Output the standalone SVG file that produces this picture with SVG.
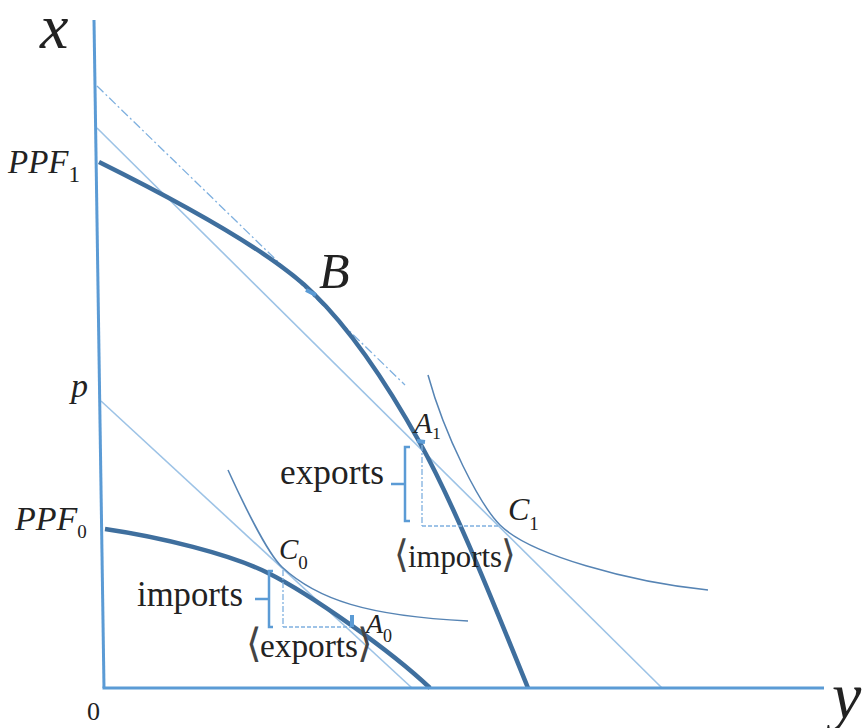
<svg xmlns="http://www.w3.org/2000/svg" width="863" height="728" viewBox="0 0 863 728">
<style>
  .axis{stroke:#5b9bd5;stroke-width:3;fill:none;stroke-linecap:butt}
  .ppf{stroke:#3f6f9e;stroke-width:4.5;fill:none;stroke-linecap:butt}
  .price{stroke:#9dc3e6;stroke-width:1.6;fill:none}
  .dashdot{stroke:#7fb0df;stroke-width:1.3;fill:none;stroke-dasharray:9 3 2 3}
  .ic{stroke:#5684b4;stroke-width:1.5;fill:none}
  .tri{stroke:#7fb0df;stroke-width:1.3;fill:none;stroke-dasharray:4 2}
  .tri2{stroke:#7fb0df;stroke-width:1.3;fill:none;stroke-dasharray:6 2 2 2}
  .brk{stroke:#5b9bd5;stroke-width:2.5;fill:none}
  .mk{stroke:#5b9bd5;stroke-width:4;fill:none}
  .lbl{font-family:"Liberation Serif","DejaVu Serif",serif;fill:#222}
  .ang{font-family:"DejaVu Serif",serif;fill:#444;font-weight:normal}
  .it{font-style:italic}
</style>
<g id="connectors">
  <line class="dashdot" x1="97" y1="86" x2="405" y2="385"/>
  <line class="price" x1="97" y1="128" x2="662" y2="688"/>
  <line class="price" x1="101" y1="401" x2="412" y2="688"/>
  <path class="ic" d="M428,375 C445,437 480,505 500,525 C530,555 630,582 708,590"/>
  <path class="ic" d="M228,470 C240,496.4 267,553 282,567 C317,599.6 368,616 468,621"/>
  <path class="ppf" d="M99,162 C240,232 290,270 313,293 C353,331.8 390,389 420,443 C455,506 493,602 528,688"/>
  <path class="ppf" d="M105,529 C160,537 230,554 268,573 C310,594 390,650 430,688"/>
  <line class="tri2" x1="422" y1="445" x2="422" y2="526"/>
  <line class="tri" x1="422" y1="526" x2="500" y2="526"/>
  <line class="tri2" x1="283" y1="570" x2="283" y2="627"/>
  <line class="tri" x1="283" y1="627" x2="351" y2="627"/>
  <path class="brk" d="M410,447 H405 V521 H410 M405,484 H391"/>
  <path class="brk" d="M273,571 H269 V627 H273 M269,599 H255"/>
  <line class="mk" x1="306" y1="290" x2="316" y2="295"/>
  <line class="mk" x1="417" y1="441" x2="425" y2="442"/>
  <line class="mk" x1="352" y1="615" x2="352" y2="627"/>
  <line class="axis" x1="94" y1="20" x2="104" y2="688"/>
  <line class="axis" x1="102.5" y1="688" x2="824" y2="688"/>
</g>
<g id="axis-x-label"><text class="lbl it" x="40" y="48" font-size="64">x</text></g>
<g id="axis-y-label"><text class="lbl it" x="832" y="718" font-size="66">y</text></g>
<g id="origin"><text class="lbl" x="87" y="720" font-size="26">0</text></g>
<g id="PPF1"><text class="lbl it" x="8" y="173" font-size="33">PPF<tspan font-style="normal" font-size="23" dy="9">1</tspan></text></g>
<g id="PPF0"><text class="lbl it" x="15" y="530" font-size="34">PPF<tspan font-style="normal" font-size="19" dy="8">0</tspan></text></g>
<g id="p"><text class="lbl it" x="71" y="397" font-size="34">p</text></g>
<g id="B"><text class="lbl it" x="319" y="288" font-size="50">B</text></g>
<g id="A1"><text class="lbl it" x="414" y="433" font-size="30">A<tspan font-style="normal" font-size="17" dy="6">1</tspan></text></g>
<g id="C1"><text class="lbl it" x="508" y="520" font-size="32">C<tspan font-style="normal" font-size="19" dy="10">1</tspan></text></g>
<g id="C0"><text class="lbl it" x="279" y="559" font-size="29">C<tspan font-style="normal" font-size="19" dy="10">0</tspan></text></g>
<g id="A0"><text class="lbl it" x="366" y="633" font-size="28">A<tspan font-style="normal" font-size="18" dy="9">0</tspan></text></g>
<g id="exports1"><text class="lbl" x="280" y="484" font-size="35" textLength="104" lengthAdjust="spacingAndGlyphs">exports</text></g>
<g id="imports1">
  <text class="ang" x="394" y="567" font-size="38">⟨</text>
  <text class="lbl" x="408" y="567" font-size="31" textLength="94" lengthAdjust="spacingAndGlyphs">imports</text>
  <text class="ang" x="501" y="567" font-size="38">⟩</text>
</g>
<g id="imports0"><text class="lbl" x="137" y="606" font-size="35" textLength="106" lengthAdjust="spacingAndGlyphs">imports</text></g>
<g id="exports0">
  <text class="ang" x="246" y="657" font-size="40">⟨</text>
  <text class="lbl" x="260" y="657" font-size="33" textLength="98" lengthAdjust="spacingAndGlyphs">exports</text>
  <text class="ang" x="357" y="657" font-size="40">⟩</text>
</g>
</svg>
